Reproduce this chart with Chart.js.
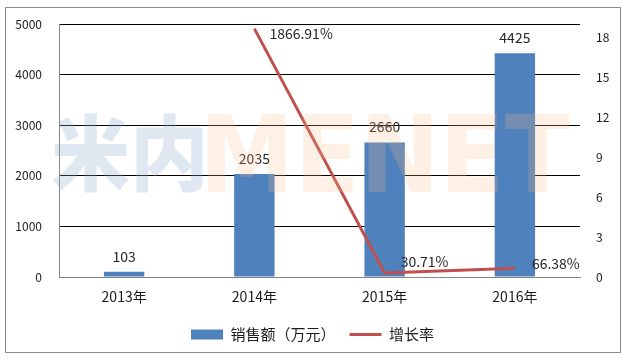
<!DOCTYPE html>
<html><head><meta charset="utf-8">
<script src="https://cdn.jsdelivr.net/npm/chart.js@4/dist/chart.umd.min.js"></script>
<style>html,body{margin:0;padding:0;background:#fff}canvas{display:block}</style>
</head><body>
<canvas id="c" width="625" height="360"></canvas>
<script>
const categories = ['2013年', '2014年', '2015年', '2016年'];
const sales = [103, 2035, 2660, 4425];
const growth = [null, 18.6691, 0.3071, 0.6638];
const growthLabels = [null, '1866.91%', '30.71%', '66.38%'];
const salesName = '销售额（万元）';
const growthName = '增长率';
const leftTicks = [0, 1000, 2000, 3000, 4000, 5000];
const rightTicks = [0, 3, 6, 9, 12, 15, 18];

const FONT = "'Noto Sans CJK SC', 'Noto Sans', sans-serif";

const frame = {
  id: 'frame',
  beforeDraw(chart) {
    const ctx = chart.ctx;
    ctx.save();
    ctx.fillStyle = '#fff';
    ctx.fillRect(0, 0, chart.width, chart.height);
    ctx.strokeStyle = '#8c8c8c';
    ctx.lineWidth = 1;
    ctx.strokeRect(5.5, 7.5, 615, 345);
    ctx.restore();
  }
};

const watermark = {
  id: 'watermark',
  afterDraw(chart) {
    const ctx = chart.ctx;
    ctx.save();
    ctx.textBaseline = 'alphabetic';
    const drawFit = (txt, x0, x1, top, bottom, color, font) => {
      ctx.font = font;
      const m = ctx.measureText(txt);
      const w = m.actualBoundingBoxLeft + m.actualBoundingBoxRight;
      const h = m.actualBoundingBoxAscent + m.actualBoundingBoxDescent;
      ctx.save();
      ctx.translate(x0, top);
      ctx.scale((x1 - x0) / w, (bottom - top) / h);
      ctx.fillStyle = color;
      ctx.fillText(txt, m.actualBoundingBoxLeft, m.actualBoundingBoxAscent);
      ctx.restore();
    };
    drawFit('米内', 52, 203, 113, 192, 'rgba(140,172,200,0.28)', "900 110px 'Noto Sans CJK SC', sans-serif");
    drawFit('MENET', 208, 570, 113, 192, 'rgba(250,185,130,0.22)', "bold 110px 'DejaVu Sans', sans-serif");
    ctx.restore();
  }
};

const dataLabels = {
  id: 'dataLabels',
  afterDatasetsDraw(chart) {
    const ctx = chart.ctx;
    ctx.save();
    ctx.font = '14px ' + FONT;
    ctx.fillStyle = '#262626';
    const bm = chart.getDatasetMeta(0);
    ctx.textAlign = 'center';
    ctx.textBaseline = 'middle';
    bm.data.forEach((el, i) => {
      ctx.fillText(String(sales[i]), el.x, el.y - 15.5);
    });
    const lm = chart.getDatasetMeta(1);
    const offs = [null, [15, 5], [16, -11], [17, -4]];
    ctx.textAlign = 'left';
    lm.data.forEach((el, i) => {
      if (growth[i] === null) return;
      ctx.fillText(growthLabels[i], el.x + offs[i][0], el.y + offs[i][1]);
    });
    ctx.restore();
  }
};

new Chart(document.getElementById('c'), {
  data: {
    labels: categories,
    datasets: [
      {
        type: 'bar', label: salesName, data: sales, yAxisID: 'y',
        backgroundColor: '#4F81BD', borderWidth: 0,
        barPercentage: 0.31, categoryPercentage: 1, order: 2
      },
      {
        type: 'line', label: growthName, data: growth, yAxisID: 'y2',
        borderColor: '#C0504D', backgroundColor: '#C0504D', borderWidth: 3,
        pointRadius: 0, tension: 0, order: 1
      }
    ]
  },
  options: {
    responsive: false,
    devicePixelRatio: 1,
    animation: false,
    layout: { padding: { left: 0, right: 0, top: 24, bottom: 8 } },
    plugins: {
      tooltip: { enabled: false },
      legend: {
        position: 'bottom',
        labels: {
          font: { family: FONT, size: 15 },
          color: '#1a1a1a',
          usePointStyle: true,
          pointStyleWidth: 32,
          boxHeight: 10,
          padding: 14,
          generateLabels(chart) {
            return [
              { text: salesName, fillStyle: '#4F81BD', strokeStyle: '#4F81BD', lineWidth: 0,
                pointStyle: 'rect', datasetIndex: 0, fontColor: '#1a1a1a' },
              { text: growthName, fillStyle: '#C0504D', strokeStyle: '#C0504D', lineWidth: 3,
                pointStyle: 'line', datasetIndex: 1, fontColor: '#1a1a1a' }
            ];
          }
        }
      }
    },
    scales: {
      x: {
        grid: { display: false, drawTicks: false },
        border: { display: true, color: '#868686' },
        ticks: { font: { family: FONT, size: 14 }, color: '#1a1a1a', padding: 11 },
        afterFit(s) { s.height = 36; }
      },
      y: {
        position: 'left', min: 0, max: 5000,
        afterBuildTicks(s) { s.ticks = leftTicks.map(v => ({ value: v })); },
        grid: { color: '#000', lineWidth: 1, drawTicks: false },
        border: { display: true, color: '#868686' },
        ticks: { font: { family: FONT, size: 12 }, color: '#1a1a1a', padding: 17,
                 callback: v => String(v) },
        afterFit(s) { s.width = 59; }
      },
      y2: {
        position: 'right', min: 0, max: 19,
        afterBuildTicks(s) { s.ticks = rightTicks.map(v => ({ value: v })); },
        grid: { display: false, drawTicks: false },
        border: { display: false },
        ticks: { font: { family: FONT, size: 12 }, color: '#1a1a1a', padding: 16,
                 callback: v => String(v) },
        afterFit(s) { s.width = 45; }
      }
    }
  },
  plugins: [frame, dataLabels, watermark]
});
</script>
</body></html>
